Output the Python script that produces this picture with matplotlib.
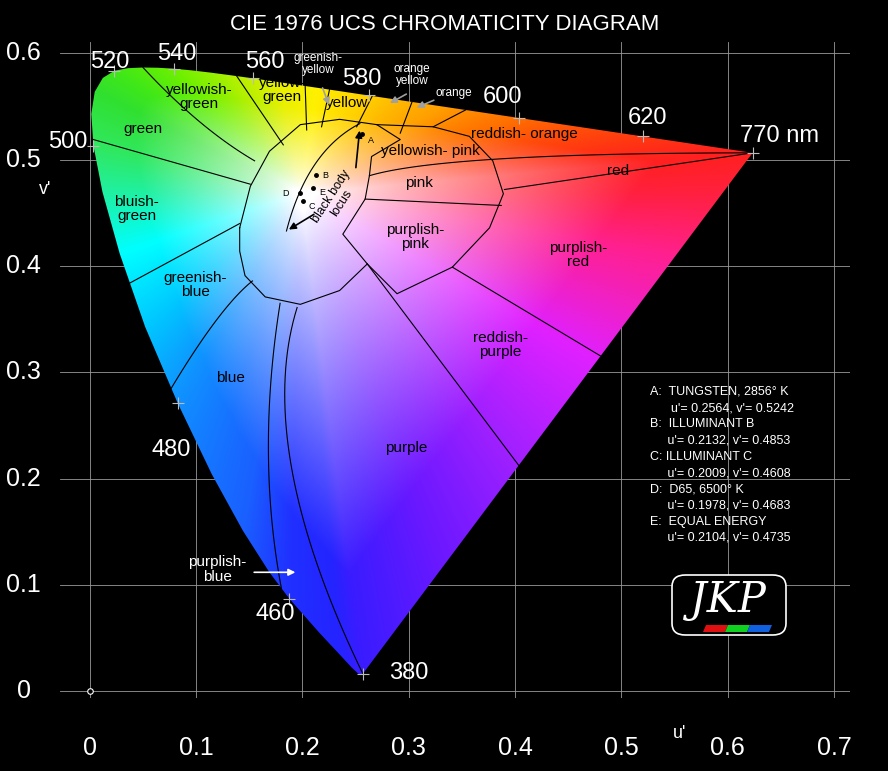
import numpy as np
import matplotlib
matplotlib.use("Agg")
import matplotlib.pyplot as plt
from matplotlib.colors import to_rgb
from matplotlib.patches import Polygon, FancyBboxPatch

plt.rcParams['font.family'] = ['Liberation Sans', 'DejaVu Sans']

# CIE 1931 2 deg spectral locus (x, y)
wl = [380, 390, 400, 410, 420, 430, 440, 450, 460, 465, 470, 475, 480, 485, 490, 495,
      500, 505, 510, 515, 520, 525, 530, 535, 540, 545, 550, 555, 560, 565, 570, 575,
      580, 585, 590, 595, 600, 610, 620, 630, 640, 650, 660, 680, 700, 770]
lx = [0.1741, 0.1738, 0.1733, 0.1726, 0.1714, 0.1689, 0.1644, 0.1566, 0.1440, 0.1355,
      0.1241, 0.1096, 0.0913, 0.0687, 0.0454, 0.0235, 0.0082, 0.0039, 0.0139, 0.0389,
      0.0743, 0.1142, 0.1547, 0.1929, 0.2296, 0.2658, 0.3016, 0.3373, 0.3731, 0.4087,
      0.4441, 0.4788, 0.5125, 0.5448, 0.5752, 0.6029, 0.6270, 0.6658, 0.6915, 0.7079,
      0.7190, 0.7260, 0.7300, 0.7334, 0.7347, 0.7347]
ly = [0.0050, 0.0049, 0.0048, 0.0048, 0.0051, 0.0069, 0.0109, 0.0177, 0.0297, 0.0399,
      0.0578, 0.0868, 0.1327, 0.2007, 0.2950, 0.4127, 0.5384, 0.6548, 0.7502, 0.8120,
      0.8338, 0.8262, 0.8059, 0.7816, 0.7543, 0.7243, 0.6923, 0.6589, 0.6245, 0.5896,
      0.5547, 0.5202, 0.4866, 0.4544, 0.4242, 0.3965, 0.3725, 0.3340, 0.3083, 0.2920,
      0.2809, 0.2740, 0.2700, 0.2666, 0.2653, 0.2653]

# edge colours of the drawing
edge_wl = [380, 440, 460, 470, 480, 485, 490, 495, 500, 510, 520, 540, 555, 565, 572, 580,
           590, 600, 620, 770]
edge_col = ["#3a1cff", "#2424ff", "#2030ff", "#1a60ff", "#1090ff", "#00c8ff", "#00ffff",
            "#20f0a0", "#30e860", "#30e030", "#40e818", "#70f000", "#b0f000", "#e8f000",
            "#fff000", "#ffd000", "#ffa000", "#ff7000", "#ff3a10", "#ff2020"]
purple_t = [0.2, 0.4, 0.6, 0.8, 0.92]
purple_col = ["#6a18ff", "#a020ff", "#e020ff", "#ff2090", "#ff2040"]
white_pt = (0.198, 0.468)

wl_labels = [(380, "380"), (460, "460"), (480, "480"), (500, "500"), (520, "520"), (540, "540"),
             (560, "560"), (580, "580"), (600, "600"), (620, "620"), (770, "770 nm")]
wl_label_pos = [(0.300, 0.017), (0.174, 0.073), (0.077, 0.227), (-0.021, 0.517), (0.019, 0.592),
                (0.082, 0.599), (0.165, 0.592), (0.256, 0.576), (0.388, 0.559), (0.525, 0.539),
                (0.649, 0.522)]

# white centre region and pink region outlines
white_region = [(0.141, 0.436), (0.151, 0.475), (0.169, 0.508), (0.198, 0.533), (0.235, 0.538),
                (0.270, 0.533), (0.292, 0.519), (0.265, 0.503), (0.263, 0.485), (0.259, 0.463),
                (0.238, 0.430), (0.261, 0.402), (0.235, 0.377), (0.198, 0.364), (0.165, 0.371),
                (0.146, 0.391), (0.141, 0.414), (0.141, 0.436)]
pink_region = [(0.270, 0.533), (0.323, 0.531), (0.357, 0.522), (0.379, 0.499), (0.389, 0.468),
               (0.376, 0.436), (0.341, 0.399), (0.289, 0.374), (0.261, 0.402)]

# boundaries ending on the spectral locus: (start point, mid point or None, wavelength)
locus_lines = [((0.151, 0.477), None, 501), ((0.155, 0.499), (0.103, 0.536), 530),
               ((0.182, 0.514), None, 556.5), ((0.204, 0.528), None, 570),
               ((0.218, 0.531), None, 574), ((0.251, 0.531), None, 580.5),
               ((0.292, 0.525), None, 586), ((0.323, 0.531), None, 593),
               ((0.141, 0.440), None, 488), ((0.153, 0.386), (0.119, 0.349), 481),
               ((0.179, 0.365), (0.168, 0.227), 462), ((0.195, 0.361), (0.190, 0.209), 380),
               ((0.263, 0.485), (0.389, 0.501), 770), ((0.390, 0.472), None, 770)]
inner_lines = [[(0.259, 0.463), (0.387, 0.457)]]
# boundaries ending on the purple line: (start, fraction along line)
purple_lines = [((0.261, 0.402), 0.40), ((0.341, 0.399), 0.61)]

regions = [("green", 0.050, 0.529, "k"), ("yellowish-\ngreen", 0.103, 0.559, "k"),
           ("yellow-\ngreen", 0.181, 0.566, "k"), ("yellow", 0.242, 0.553, "k"),
           ("reddish- orange", 0.409, 0.524, "k"), ("yellowish- pink", 0.320, 0.508, "k"),
           ("pink", 0.310, 0.478, "k"), ("purplish-\npink", 0.306, 0.427, "k"),
           ("red", 0.497, 0.489, "k"), ("purplish-\nred", 0.459, 0.410, "k"),
           ("reddish-\npurple", 0.386, 0.326, "k"), ("purple", 0.298, 0.229, "k"),
           ("blue", 0.132, 0.295, "k"), ("greenish-\nblue", 0.099, 0.382, "k"),
           ("bluish-\ngreen", 0.044, 0.454, "k")]
outside_labels = [("greenish-\nyellow", 0.215, 0.590), ("orange\nyellow", 0.303, 0.580),
                  ("orange", 0.342, 0.563)]
outside_arrows = [((0.218, 0.570), (0.226, 0.549)), ((0.300, 0.563), (0.280, 0.552)),
                  ((0.326, 0.557), (0.305, 0.548))]

bb_curve = [(0.254, 0.534), (0.212, 0.496), (0.198, 0.471), (0.185, 0.433)]
sources = ["A", "B", "C", "D", "E"]
src_u = [0.2564, 0.2132, 0.2009, 0.1978, 0.2104]
src_v = [0.5242, 0.4853, 0.4608, 0.4683, 0.4735]
legend_lines = ["A:  TUNGSTEN, 2856\u00b0 K", "      u'= 0.2564, v'= 0.5242",
                "B:  ILLUMINANT B", "     u'= 0.2132, v'= 0.4853",
                "C: ILLUMINANT C", "     u'= 0.2009, v'= 0.4608",
                "D:  D65, 6500\u00b0 K", "     u'= 0.1978, v'= 0.4683",
                "E:  EQUAL ENERGY", "     u'= 0.2104, v'= 0.4735"]

u_ticks = [0, 0.1, 0.2, 0.3, 0.4, 0.5, 0.6, 0.7]
v_ticks = [0, 0.1, 0.2, 0.3, 0.4, 0.5, 0.6]

# ---------------------------------------------------------------
lx = np.array(lx); ly = np.array(ly)
den = -2 * lx + 12 * ly + 3
lu = 4 * lx / den
lv = 9 * ly / den

def on_locus(w):
    return np.interp(w, wl, lu), np.interp(w, wl, lv)

def bend(a, m, b, n=40):
    a, m, b = np.array(a), np.array(m), np.array(b)
    c = 2 * m - (a + b) / 2
    t = np.linspace(0, 1, n)[:, None]
    p = (1 - t) ** 2 * a + 2 * t * (1 - t) * c + t ** 2 * b
    return p[:, 0], p[:, 1]

fig = plt.figure(figsize=(8.88, 7.71), dpi=100, facecolor="black")
ax = fig.add_axes([60 / 888, 71 / 771, 790 / 888, 660 / 771])
ax.set_facecolor("black")
ax.set_xlim(-0.028, 0.715)
ax.set_ylim(-0.0065, 0.611)
ax.axis("off")

for u in u_ticks:
    ax.plot([u, u], [-0.0065, 0.611], color="#9a9a9a", lw=0.6, zorder=0)
    ax.text(u, -0.053, "0" if u == 0 else f"{u:.1f}", color="white", fontsize=18,
            ha="center", va="center", clip_on=False)
for v in v_ticks:
    ax.plot([-0.028, 0.715], [v, v], color="#9a9a9a", lw=0.6, zorder=0)
    ax.text(-0.062, v, "0" if v == 0 else f"{v:.1f}", color="white", fontsize=18,
            ha="center", va="center", clip_on=False)

# colour fill: edge colour by angle round the white point, blended to white at the centre
bu, bv, bc = [], [], []
for w, c in zip(edge_wl, edge_col):
    pu, pv = on_locus(w)
    bu.append(pu); bv.append(pv); bc.append(to_rgb(c))
for t, c in zip(purple_t, purple_col):
    bu.append(lu[0] + t * (lu[-1] - lu[0])); bv.append(lv[0] + t * (lv[-1] - lv[0])); bc.append(to_rgb(c))
bu = np.array(bu); bv = np.array(bv); bc = np.array(bc)
ang_b = np.arctan2(bv - white_pt[1], bu - white_pt[0])
order = np.argsort(ang_b)
ang_b = ang_b[order]; bc = bc[order]
ou = np.concatenate([lu, np.linspace(lu[-1], lu[0], 50)])
ov = np.concatenate([lv, np.linspace(lv[-1], lv[0], 50)])
ang_o = np.arctan2(ov - white_pt[1], ou - white_pt[0])
r_o = np.hypot(ou - white_pt[0], ov - white_pt[1])
oo = np.argsort(ang_o); ang_o = ang_o[oo]; r_o = r_o[oo]

n = 600
uu, vv = np.meshgrid(np.linspace(0, 0.65, n), np.linspace(0, 0.62, n))
ang = np.arctan2(vv - white_pt[1], uu - white_pt[0])
r = np.hypot(uu - white_pt[0], vv - white_pt[1])
rmax = np.interp(ang, ang_o, r_o, period=2 * np.pi)
s = np.clip((r / rmax - 0.04) / 0.75, 0, 1) ** 0.8
rgb = np.stack([np.interp(ang, ang_b, bc[:, k], period=2 * np.pi) for k in range(3)], -1)
rgb = 1 - s[..., None] * (1 - rgb)
im = ax.imshow(rgb, extent=(0, 0.65, 0, 0.62), origin="lower", interpolation="bilinear", zorder=1)
gamut = Polygon(np.column_stack([lu, lv]), closed=True, facecolor="none", edgecolor="none")
ax.add_patch(gamut)
im.set_clip_path(gamut)

# boundaries
lk = dict(color="black", lw=0.8, zorder=3)
ax.plot(*zip(*white_region), **lk)
ax.plot(*zip(*pink_region), **lk)
for seg in inner_lines:
    ax.plot(*zip(*seg), **lk)
for start, mid, w in locus_lines:
    end = on_locus(w)
    if mid is None:
        ax.plot([start[0], end[0]], [start[1], end[1]], **lk)
    else:
        ax.plot(*bend(start, mid, end), **lk)
for start, t in purple_lines:
    pu = lu[0] + t * (lu[-1] - lu[0])
    pv = lv[0] + t * (lv[-1] - lv[0])
    ax.plot([start[0], pu], [start[1], pv], **lk)

# wavelength labels and ticks
for (w, s_), (tu, tv) in zip(wl_labels, wl_label_pos):
    pu, pv = on_locus(w)
    ax.plot(pu, pv, marker="+", ms=9, color="#bbbbbb", mew=0.8, zorder=4)
    ax.text(tu, tv, s_, color="white", fontsize=17, ha="center", va="center", zorder=5)

for txt, u, v, c in regions:
    ax.text(u, v, txt, color=c, fontsize=11, ha="center", va="center", zorder=5, linespacing=1.0)
for txt, u, v in outside_labels:
    ax.text(u, v, txt, color="white", fontsize=8.5, ha="center", va="center", zorder=5, linespacing=1.0)
for (a, b) in outside_arrows:
    ax.annotate("", xy=b, xytext=a, arrowprops=dict(arrowstyle="-|>", color="#a0a0a0", lw=1.2), zorder=5)

ax.text(0.120, 0.115, "purplish-\nblue", color="white", fontsize=11, ha="center", va="center",
        linespacing=1.1, zorder=5)
ax.annotate("", xy=(0.196, 0.112), xytext=(0.152, 0.112),
            arrowprops=dict(arrowstyle="-|>", color="white", lw=1.2), zorder=5)

# black body locus
bx, by = bend(bb_curve[0], bb_curve[1], bb_curve[3])
ax.plot(bx, by, color="black", lw=0.8, zorder=4)
ax.annotate("", xy=(0.254, 0.530), xytext=(0.250, 0.490),
            arrowprops=dict(arrowstyle="-|>", color="black", lw=1.2), zorder=5)
ax.annotate("", xy=(0.185, 0.433), xytext=(0.213, 0.450),
            arrowprops=dict(arrowstyle="-|>", color="black", lw=1.2), zorder=5)
ax.text(0.232, 0.462, "black body\nlocus", rotation=57, fontsize=9, ha="center", va="center",
        linespacing=1.0, zorder=5)
offs = {"A": (0.008, -0.006), "B": (0.008, 0.0), "C": (0.008, -0.005), "D": (-0.014, 0.0), "E": (0.008, -0.004)}
for name, u, v in zip(sources, src_u, src_v):
    ax.plot(u, v, "o", color="black", ms=2.5, zorder=6)
    ax.text(u + offs[name][0], v + offs[name][1], name, fontsize=6.5, ha="center", va="center", zorder=6)

ax.plot(0, 0, "o", mfc="black", mec="white", ms=4, mew=0.8, zorder=6)

fig.text(445 / 888, 1 - 25 / 771, "CIE 1976 UCS CHROMATICITY DIAGRAM", color="white",
         fontsize=16, ha="center", va="center")
fig.text(45 / 888, 1 - 190 / 771, "v'", color="white", fontsize=13, ha="center", va="center")
fig.text(680 / 888, 1 - 733 / 771, "u'", color="white", fontsize=13, ha="center", va="center")

for i, line in enumerate(legend_lines):
    fig.text(650 / 888, 1 - (392 + i * 16.2) / 771, line, color="white", fontsize=9, va="center")

# logo
fig.patches.append(FancyBboxPatch((672 / 888, 1 - 635 / 771), 114 / 888, 60 / 771,
                                  boxstyle="round,pad=0,rounding_size=0.015", transform=fig.transFigure,
                                  facecolor="black", edgecolor="white", lw=1.2))
fig.text(728 / 888, 1 - 600 / 771, "JKP", color="white", fontsize=30, family="DejaVu Serif",
         style="italic", ha="center", va="center")
for k, c in enumerate(["#e01010", "#10d020", "#1060e0"]):
    x0 = (703 + k * 22) / 888
    fig.patches.append(Polygon([(x0, 1 - 632 / 771), (x0 + 22 / 888, 1 - 632 / 771),
                                (x0 + 25 / 888, 1 - 625 / 771), (x0 + 3 / 888, 1 - 625 / 771)],
                               closed=True, transform=fig.transFigure, facecolor=c, edgecolor="none"))

fig.savefig("out.png", dpi=100, facecolor="black")
